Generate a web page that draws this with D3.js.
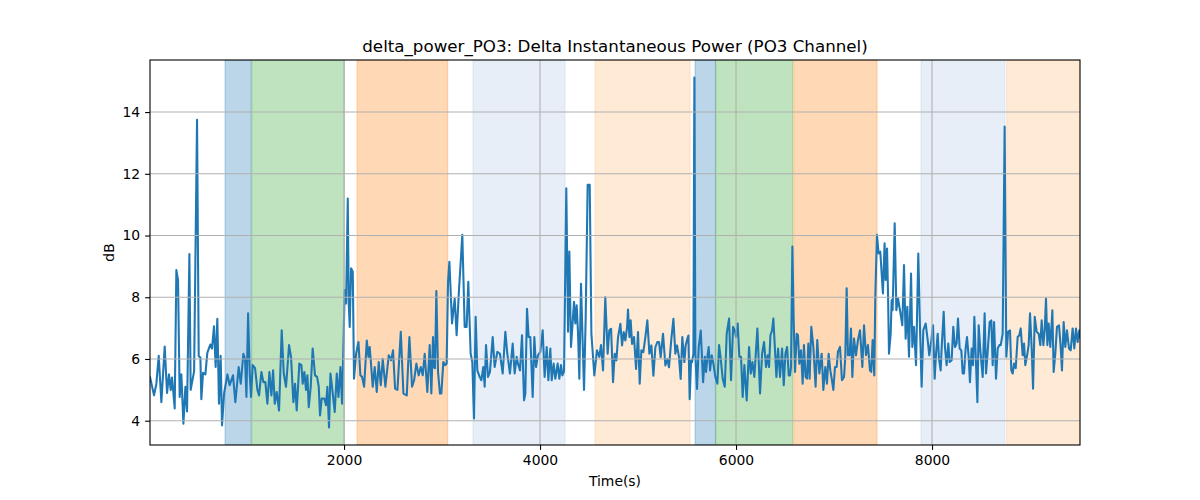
<!DOCTYPE html>
<html><head><meta charset="utf-8">
<script src="https://cdn.jsdelivr.net/npm/d3@7"></script>
<style>body{margin:0;background:#fff} text{font-family:"DejaVu Sans",sans-serif;fill:#000}</style>
</head><body><svg id="c" width="1200" height="500"></svg>
<script>
// [time (s), power (dB)]
const series = [
[20,5.42],[61,4.82],[85,5.2],[109,6.1],[136,4.6],[170,6.4],[194,4.9],[214,5.5],[231,5.0],[245,5.4],[272,4.4],[289,8.88],[306,8.55],[323,4.77],[340,5.5],[361,3.9],[381,5.1],[398,4.3],[422,9.4],[435,5.0],[470,5.6],[500,13.75],[517,6.1],[534,6.05],[544,4.7],[561,5.55],[585,5.5],[605,6.2],[636,6.47],[653,6.34],[673,7.06],[690,5.74],[707,7.3],[724,4.55],[741,6.1],[755,3.85],[776,4.88],[810,5.5],[833,5.15],[867,5.47],[891,4.6],[925,5.74],[946,5.2],
[973,6.17],[990,6.0],[1004,4.77],[1021,7.48],[1038,5.5],[1051,4.77],[1068,5.8],[1092,5.7],[1116,5.0],[1133,4.82],[1157,5.58],[1177,5.25],[1197,5.25],[1218,4.55],[1238,5.58],[1259,4.82],[1276,5.63],[1293,4.55],[1313,4.93],[1337,4.33],[1364,6.93],[1385,5.53],[1408,5.1],[1439,6.45],[1459,6.07],[1483,4.6],[1500,5.2],[1517,4.33],[1544,5.85],[1565,5.8],[1578,5.2],[1595,5.58],[1612,5.0],[1626,5.47],[1640,4.44],[1660,5.1],[1680,6.34],[1704,5.47],[1725,5.42],[1742,5.1],[1755,4.17],[1772,4.72],[1799,4.72],[1816,4.5],[1830,5.1],[1847,3.78],[1861,5.53],[1881,5.0],
[1905,4.28],[1926,5.53],[1943,4.77],[1963,5.74],[1980,4.55],[2007,8.23],[2021,7.8],[2038,11.2],[2048,7.8],[2058,7.04],[2072,8.94],[2089,8.83],[2102,5.36],[2123,6.17],[2147,6.55],[2167,5.47],[2184,5.42],[2205,5.1],[2232,6.6],[2249,6.07],[2262,6.39],[2293,5.1],[2313,5.74],[2334,4.93],[2354,5.9],[2375,5.15],[2395,6.0],[2422,5.1],[2456,6.12],[2480,5.96],[2500,6.28],[2521,5.04],[2545,5.0],[2579,6.88],[2606,4.88],[2640,4.82],[2667,6.71],[2694,5.1],[2715,5.31],[2738,5.85],[2762,5.47],[2783,5.74],[2803,5.47],[2823,6.17],
[2850,4.93],[2874,6.45],[2891,4.88],[2908,6.71],[2918,5.74],[2928,5.7],[2942,8.2],[2959,5.58],[2979,4.88],[2993,4.88],[3013,5.9],[3034,5.8],[3047,5.85],[3061,8.5],[3075,9.15],[3102,7.15],[3129,7.96],[3149,6.77],[3173,8.23],[3207,10.02],[3231,7.04],[3251,7.04],[3268,8.5],[3292,6.17],[3309,5.9],[3326,4.07],[3343,7.37],[3360,5.63],[3384,5.42],[3401,5.31],[3421,5.74],[3435,5.1],[3449,6.45],[3469,5.42],[3489,5.58],[3517,6.71],[3537,5.74],[3564,6.23],[3591,6.17],[3619,5.53],[3646,6.88],[3666,6.17],[3693,5.53],[3721,6.5],[3741,5.53],[3762,6.07],
[3775,5.85],[3796,5.63],[3816,6.77],[3837,4.66],[3850,4.88],[3867,7.63],[3884,6.71],[3901,6.71],[3925,4.77],[3942,6.71],[3959,5.74],[3979,6.12],[4003,6.23],[4027,6.93],[4047,5.42],[4068,6.39],[4085,5.31],[4105,6.34],[4119,5.31],[4139,5.85],[4156,5.36],[4180,5.85],[4197,5.36],[4214,5.8],[4228,5.47],[4245,5.6],[4268,11.53],[4286,6.88],[4299,9.48],[4316,6.39],[4347,7.85],[4360,7.15],[4374,7.74],[4388,6.82],[4401,5.36],[4418,8.44],[4449,5.0],[4466,7.37],[4486,11.64],[4507,11.64],[4524,6.82],[4554,5.47],[4581,6.28],[4605,6.07],[4622,6.45],[4643,5.63],[4666,8.0],[4690,6.17],[4707,6.93],
[4725,6.98],[4745,5.25],[4762,6.17],[4779,5.95],[4796,6.71],[4820,7.14],[4837,6.44],[4854,6.87],[4871,6.6],[4888,7.03],[4898,7.6],[4912,6.71],[4925,7.25],[4939,6.49],[4959,6.71],[4980,5.68],[5000,6.87],[5017,5.2],[5034,6.28],[5054,6.22],[5075,6.71],[5095,7.25],[5116,6.17],[5136,6.44],[5157,5.46],[5177,6.38],[5197,6.55],[5214,6.55],[5231,6.06],[5255,6.82],[5279,5.79],[5299,6.0],[5316,5.73],[5340,6.65],[5361,7.3],[5381,6.17],[5398,6.44],[5418,6.06],[5435,5.35],[5452,6.71],[5473,5.9],[5486,6.44],[5503,6.65],[5514,6.76],[5527,4.7],[5541,5.95],[5551,5.9],[5565,6.17],[5575,15.12],[5585,6.17],[5602,5.03],[5619,6.38],[5640,6.92],
[5664,5.25],[5681,6.07],[5694,5.58],[5708,6.07],[5721,6.39],[5735,5.63],[5752,6.12],[5769,5.85],[5789,5.42],[5810,5.2],[5827,6.45],[5844,6.01],[5864,5.36],[5885,5.1],[5905,6.82],[5929,7.31],[5949,5.31],[5970,7.04],[5987,6.93],[6000,6.71],[6017,7.15],[6034,6.07],[6051,6.07],[6068,4.77],[6085,5.8],[6109,4.66],[6133,6.39],[6150,5.53],[6167,5.9],[6187,5.42],[6218,6.99],[6245,4.88],[6266,6.17],[6286,6.55],[6306,5.74],[6323,6.12],[6337,5.74],[6351,6.77],[6368,6.93],[6381,7.31],[6395,6.45],[6412,5.42],[6429,6.34],[6449,5.42],[6470,6.34],[6487,5.15],[6504,6.17],[6521,6.39],[6538,5.47],[6551,5.47],[6561,5.74],[6575,9.64],
[6588,7.26],[6602,5.58],[6619,6.82],[6632,6.77],[6646,5.85],[6663,6.28],[6680,5.2],[6693,6.45],[6710,5.42],[6724,5.36],[6738,6.5],[6751,5.36],[6768,7.04],[6789,6.39],[6812,5.1],[6829,6.61],[6850,5.53],[6874,6.17],[6891,5.0],[6911,5.74],[6928,5.2],[6945,6.17],[6962,5.63],[6979,5.31],[6993,5.0],[7010,5.74],[7027,5.74],[7040,6.23],[7061,6.39],[7081,5.31],[7102,5.42],[7115,6.07],[7129,8.29],[7142,6.12],[7159,6.12],[7173,6.99],[7187,5.42],[7204,6.66],[7224,6.12],[7244,6.61],[7265,6.93],[7289,5.74],[7306,7.09],[7326,6.12],[7346,6.45],[7367,5.63],[7380,5.58],[7394,6.61],[7411,5.47],[7421,7.98],[7438,10.02],[7455,9.42],[7472,9.48],[7499,8.12],[7516,9.75],
[7527,8.56],[7541,9.58],[7551,8.12],[7561,6.17],[7578,6.82],[7588,7.9],[7598,7.58],[7619,10.4],[7636,7.58],[7653,7.96],[7673,7.58],[7697,7.09],[7714,9.04],[7731,6.66],[7748,7.69],[7765,6.07],[7786,8.77],[7799,6.39],[7816,7.04],[7837,5.8],[7860,9.42],[7877,7.04],[7894,5.1],[7911,6.93],[7935,7.15],[7956,6.61],[7972,6.12],[7993,6.61],[8010,7.09],[8027,5.36],[8041,6.17],[8058,6.82],[8071,6.01],[8088,5.63],[8098,6.34],[8119,7.53],[8132,6.39],[8149,5.8],[8166,6.5],[8180,5.9],[8200,5.96],[8217,7.04],[8234,6.39],[8251,6.5],[8265,7.31],[8282,6.34],[8299,6.28],[8313,5.53],[8326,5.53],[8343,6.34],[8357,6.71],[8374,6.07],[8387,5.25],[8404,6.34],[8418,5.8],[8432,7.37],[8445,6.17],[8463,4.6],[8476,7.09],
[8493,6.28],[8517,5.42],[8537,7.48],[8551,5.53],[8568,6.23],[8588,7.2],[8605,7.25],[8619,5.8],[8633,7.2],[8653,5.36],[8670,6.34],[8687,6.45],[8701,6.45],[8721,6.82],[8741,13.53],[8758,6.07],[8776,6.88],[8796,6.93],[8809,5.63],[8823,5.53],[8837,5.85],[8854,5.7],[8874,6.71],[8891,6.77],[8905,6.99],[8925,6.12],[8939,6.5],[8952,5.8],[8973,6.17],[8986,6.45],[9000,7.48],[9017,6.34],[9031,5.04],[9048,7.37],[9068,6.88],[9088,6.82],[9105,6.45],[9119,7.25],[9136,6.45],[9150,6.93],[9163,7.96],[9177,6.45],[9190,7.15],[9207,6.39],[9228,7.58],[9241,5.58],[9258,6.17],[9275,7.04],[9296,7.09],[9313,6.39],[9326,5.63],[9343,7.2],[9360,6.39],[9377,6.93],[9398,6.34],[9415,6.28],[9435,6.99],[9452,6.34],[9469,6.99],[9486,6.55],[9503,6.93],[9510,6.7]
];
// shaded stage intervals
const bandStarts = [786, 1058, 2133, 3316, 4561, 5582, 5793, 6589, 7888, 8762];
const bandEnds   = [1052, 2003, 3058, 4255, 5531, 5790, 6578, 7439, 8745, 9510];
const bandKind   = [0, 1, 2, 3, 4, 0, 1, 2, 3, 4];
const xTickValues = [2000, 4000, 6000, 8000];
const yTickValues = [4, 6, 8, 10, 12, 14];
const titleText = "delta_power_PO3: Delta Instantaneous Power (PO3 Channel)";
const xLabel = "Time(s)";
const yLabel = "dB";

const bandPalette = ["#1f77b4", "#2ca02c", "#ff7f0e", "#aec7e8", "#ffbb78"];

const L = 150, R = 1080, T = 60, B = 445;
const svg = d3.select("#c");
const x = d3.scaleLinear().domain(d3.extent(series, d => d[0])).range([L, R]);
const ymin = d3.min(series, d => d[1]), ymax = d3.max(series, d => d[1]);
const pad = 0.05 * (ymax - ymin);
const y = d3.scaleLinear().domain([ymin - pad, ymax + pad]).range([B, T]);

svg.append("defs").append("clipPath").attr("id", "clip")
  .append("rect").attr("x", L).attr("y", T).attr("width", R - L).attr("height", B - T);

const plot = svg.append("g").attr("clip-path", "url(#clip)");
plot.selectAll("rect.band").data(bandStarts.map((s, i) => ({s, e: bandEnds[i], k: bandKind[i]})))
  .join("rect").attr("class", "band")
  .attr("x", d => x(d.s)).attr("width", d => x(d.e) - x(d.s))
  .attr("y", T).attr("height", B - T)
  .attr("fill", d => bandPalette[d.k]).attr("fill-opacity", 0.3)
  .attr("stroke", d => bandPalette[d.k]).attr("stroke-opacity", 0.3).attr("stroke-width", 1.1);

// grid
const grid = svg.append("g");
grid.selectAll("line.gx").data(xTickValues).join("line")
  .attr("x1", d => x(d)).attr("x2", d => x(d)).attr("y1", T).attr("y2", B)
  .attr("stroke", "#b0b0b0").attr("stroke-width", 1.1);
grid.selectAll("line.gy").data(yTickValues).join("line")
  .attr("y1", d => y(d)).attr("y2", d => y(d)).attr("x1", L).attr("x2", R)
  .attr("stroke", "#b0b0b0").attr("stroke-width", 1.1);

plot.append("path").datum(series)
  .attr("d", d3.line().x(d => x(d[0])).y(d => y(d[1])))
  .attr("fill", "none").attr("stroke", "#1f77b4").attr("stroke-width", 2.08)
  .attr("stroke-linejoin", "round").attr("stroke-linecap", "square");

// axes
const fs = "13.9px";
const xAxis = svg.append("g").attr("transform", `translate(0,${B})`)
  .call(d3.axisBottom(x).tickValues(xTickValues).tickSizeOuter(0).tickSize(4.9).tickPadding(4.9).tickFormat(d3.format("d")));
const yAxis = svg.append("g").attr("transform", `translate(${L},0)`)
  .call(d3.axisLeft(y).tickValues(yTickValues).tickSizeOuter(0).tickSize(4.9).tickPadding(4.9).tickFormat(d3.format("d")));
[xAxis, yAxis].forEach(a => {
  a.select(".domain").remove();
  a.selectAll("line").attr("stroke", "#000").attr("stroke-width", 1.1);
  a.selectAll("text").attr("font-family", "DejaVu Sans").attr("font-size", fs).attr("fill", "#000");
});

svg.append("rect").attr("x", L).attr("y", T).attr("width", R - L).attr("height", B - T)
  .attr("fill", "none").attr("stroke", "#000").attr("stroke-width", 1.1);

svg.append("text").attr("x", (L + R) / 2).attr("y", 52).attr("text-anchor", "middle")
  .attr("font-size", "16.7px").text(titleText);
svg.append("text").attr("x", (L + R) / 2).attr("y", 486).attr("text-anchor", "middle")
  .attr("font-size", fs).text(xLabel);
svg.append("text").attr("transform", `translate(114,${(T + B) / 2}) rotate(-90)`).attr("text-anchor", "middle")
  .attr("font-size", fs).text(yLabel);
</script></body></html>
